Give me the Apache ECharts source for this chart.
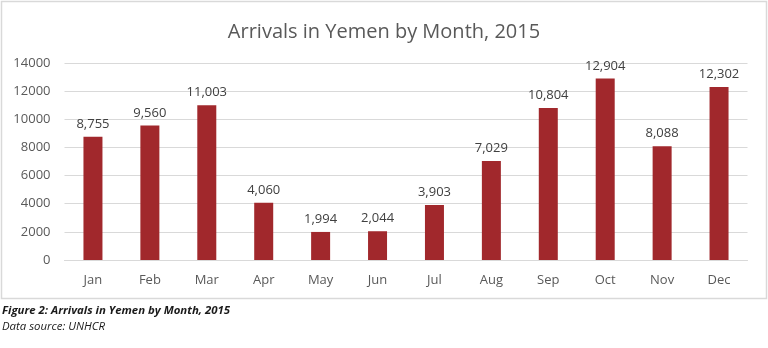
<!DOCTYPE html>
<html><head><meta charset="utf-8">
<script src="https://cdn.jsdelivr.net/npm/echarts@6/dist/echarts.min.js"></script>
<style>html,body{margin:0;padding:0;background:#fff}#c{width:768px;height:348px}</style>
</head><body><div id="c"></div>
<script>
const months = ['Jan','Feb','Mar','Apr','May','Jun','Jul','Aug','Sep','Oct','Nov','Dec'];
const arrivals = [8755, 9560, 11003, 4060, 1994, 2044, 3903, 7029, 10804, 12904, 8088, 12302];
const titleText = 'Arrivals in Yemen by Month, 2015';
const captionText = 'Figure 2: Arrivals in Yemen by Month, 2015';
const sourceText = 'Data source: UNHCR';

const chart = echarts.init(document.getElementById('c'));
chart.setOption({
  animation: false,
  title: {
    text: titleText, left: 'center', top: 17,
    textStyle: { fontFamily: 'Open Sans', fontSize: 20, fontWeight: 'normal', color: '#595959' }
  },
  graphic: [
    { type: 'rect', shape: { x: 1.5, y: 1.5, width: 765, height: 297 },
      style: { fill: 'none', stroke: '#d9d9d9', lineWidth: 1.5 } },
    { type: 'text', left: 2, top: 305,
      style: { text: captionText, fontFamily: 'Open Sans', fontSize: 11.4, fontWeight: 'bold', fontStyle: 'italic', fill: '#1a1a1a' } },
    { type: 'text', left: 2, top: 321,
      style: { text: sourceText, fontFamily: 'Open Sans', fontSize: 11.4, fontStyle: 'italic', fill: '#1a1a1a' } }
  ],
  grid: { left: 64.5, right: 20.5, top: 63, bottom: 88, containLabel: false },
  xAxis: {
    type: 'category', data: months,
    axisLine: { show: true, lineStyle: { color: '#d9d9d9' } },
    axisTick: { show: false },
    axisLabel: { color: '#595959', fontFamily: 'Open Sans', fontSize: 13, margin: 14 }
  },
  yAxis: {
    type: 'value', min: 0, max: 14000, interval: 2000,
    axisLine: { show: false }, axisTick: { show: false },
    splitLine: { lineStyle: { color: '#d9d9d9' } },
    axisLabel: { color: '#595959', fontFamily: 'Open Sans', fontSize: 13, margin: 14, formatter: v => String(v) }
  },
  series: [{
    type: 'bar', data: arrivals, barWidth: 19,
    itemStyle: { color: '#A1282C' },
    label: {
      show: true, position: 'top', distance: 6,
      color: '#404040', fontFamily: 'Open Sans', fontSize: 13,
      formatter: p => p.value.toLocaleString('en-US')
    }
  }]
});
</script></body></html>
